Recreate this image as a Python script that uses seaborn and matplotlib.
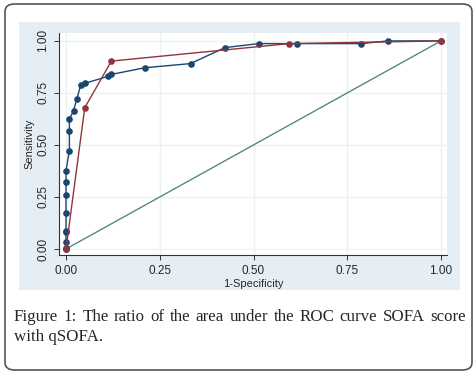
import matplotlib.pyplot as plt
from matplotlib.patches import FancyBboxPatch, Rectangle
import numpy as np
import pandas as pd
import seaborn as sns

# ROC points
sofa_fpr = [0, 0, 0, 0, 0, 0, 0, 0, 0, 0.009, 0.009, 0.009, 0.02, 0.029, 0.039, 0.05,
            0.111, 0.121, 0.21, 0.332, 0.424, 0.514, 0.615, 0.787, 0.859, 1.0]
sofa_tpr = [0, 0.005, 0.032, 0.082, 0.088, 0.173, 0.259, 0.323, 0.377, 0.473, 0.569, 0.623,
            0.665, 0.722, 0.786, 0.796, 0.829, 0.839, 0.871, 0.891, 0.968, 0.987, 0.987,
            0.987, 1.0, 1.0]
qsofa_fpr = [0, 0.05, 0.121, 0.595, 1.0]
qsofa_tpr = [0, 0.679, 0.903, 0.987, 1.0]
ref_x = [0, 1]
ref_y = [0, 1]
ticks = [0, 0.25, 0.5, 0.75, 1.0]
tick_labels = ['0.00', '0.25', '0.50', '0.75', '1.00']

sofa = pd.DataFrame({'fpr': sofa_fpr, 'tpr': sofa_tpr})
qsofa = pd.DataFrame({'fpr': qsofa_fpr, 'tpr': qsofa_tpr})
ref = pd.DataFrame({'fpr': ref_x, 'tpr': ref_y})

sns.set_style('white')
plt.rcParams['font.family'] = ['Liberation Sans', 'DejaVu Sans']

W, H = 477, 375
fig = plt.figure(figsize=(W / 100, H / 100), dpi=100)

# outer rounded frame
fig.patches.append(FancyBboxPatch((5 / W, 5 / H), 467 / W, 366 / H,
                                  boxstyle='round,pad=0,rounding_size=0.02',
                                  transform=fig.transFigure, fill=False,
                                  edgecolor='#555555', lw=1.2, zorder=-2))
# stata graph region
fig.patches.append(Rectangle((19 / W, (H - 290) / H), 441 / W, 268 / H,
                             transform=fig.transFigure, facecolor='#e6eef5',
                             edgecolor='none', zorder=-1))

ax = fig.add_axes([59 / W, (H - 255) / H, 388 / W, 222 / H])
ax.set_facecolor('white')

blue = '#1a476f'
red = '#90353b'
green = '#55897a'

sns.lineplot(data=ref, x='fpr', y='tpr', sort=False, estimator=None, ax=ax,
             color=green, lw=1.0)
sns.lineplot(data=sofa, x='fpr', y='tpr', sort=False, estimator=None, ax=ax,
             color=blue, lw=1.0, marker='o', markersize=4.8, markeredgewidth=0)
sns.lineplot(data=qsofa, x='fpr', y='tpr', sort=False, estimator=None, ax=ax,
             color=red, lw=1.0, marker='o', markersize=4.8, markeredgewidth=0)

ax.set_xlim(-0.0187, 1.016)
ax.set_ylim(-0.029, 1.038)
ax.set_xticks(ticks)
ax.set_xticklabels(tick_labels)
ax.set_yticks(ticks)
ax.set_yticklabels(tick_labels, rotation=90, va='center')
ax.grid(True, color='#eaf2f3', lw=1.0)
ax.set_axisbelow(True)
for s in ['top', 'right']:
    ax.spines[s].set_visible(False)
for s in ['left', 'bottom']:
    ax.spines[s].set_color('#333333')
    ax.spines[s].set_linewidth(0.8)
ax.tick_params(axis='both', length=3.5, width=0.7, color='#333333',
               labelsize=8.5, pad=3.5, left=True, bottom=True)
ax.set_xlabel('1-Specificity', fontsize=8, labelpad=1.5)
ax.set_ylabel('Sensitivity', fontsize=8, labelpad=2)

# caption, justified on the first line
line1 = ['Figure', '1:', 'The', 'ratio', 'of', 'the', 'area', 'under', 'the', 'ROC',
         'curve', 'SOFA', 'score']
fig.canvas.draw()
r = fig.canvas.get_renderer()
x0, x1 = 14, 466
y1 = H - 321
objs = []
for i, w in enumerate(line1):
    t = fig.text(0, y1 / H, w, fontsize=12.2, family='Liberation Serif',
                 va='baseline')
    objs.append(t)
widths = [t.get_window_extent(r).width for t in objs]
gap = (x1 - x0 - sum(widths)) / (len(objs) - 1)
pos = x0
for t, wd in zip(objs, widths):
    t.set_x(pos / W)
    pos += wd + gap
fig.text(x0 / W, (H - 341) / H, 'with qSOFA.', fontsize=12.2,
         family='Liberation Serif', va='baseline')

fig.savefig('out.png', dpi=100)
